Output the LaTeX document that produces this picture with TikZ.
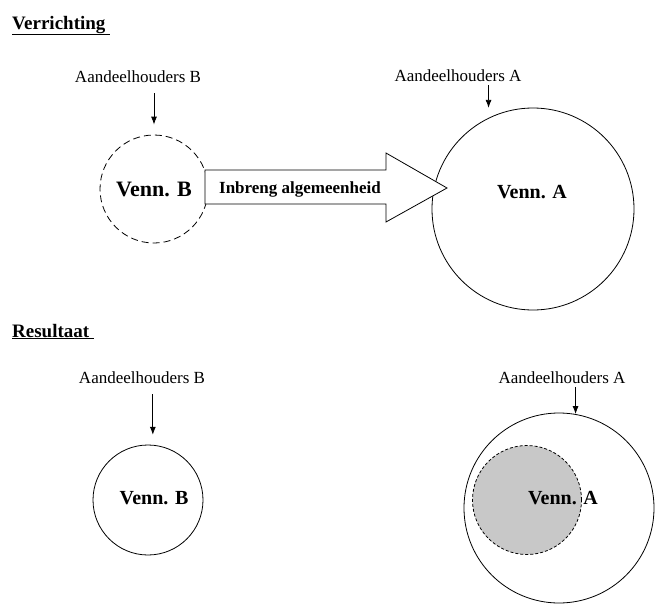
\documentclass[tikz,border=0pt]{standalone}
\usepackage{fontspec}
\setmainfont{Liberation Serif}
\usetikzlibrary{positioning,arrows.meta}
\definecolor{vennGrey}{RGB}{200,200,200}
\tikzset{venn node/.style={circle,draw,line width=0.8pt,inner sep=0pt},
         venn text/.style={font=\bfseries\fontsize{20}{24}\selectfont,inner sep=0pt},
         title node/.style={font=\bfseries\fontsize{19}{23}\selectfont,inner sep=0pt,anchor=base west},
         holder node/.style={font=\fontsize{17}{20}\selectfont,inner sep=0pt},
         pijl/.style={-{Latex[length=8pt,width=6pt]},line width=0.8pt},
            }

\begin{document}
\begin{tikzpicture}[x=1pt,y=1pt]
    \useasboundingbox (0,0) rectangle (662,-605);

    % Verrichting
    \node[title node] (verr) at (12,-29) {\underline{Verrichting\ }};
    \node[venn node,dash pattern=on 7pt off 4pt,minimum size=108pt,venn text,font=\bfseries\fontsize{22}{26}\selectfont] (B1) at (154,-189) {Venn. B};
    \node[holder node] (hB1) at (138,-77) {Aandeelhouders B};
    \node[venn node,minimum size=202pt] (A1) at (533,-209) {};
    \node[venn text] (tA1) at (532,-192) {Venn. A};
    \node[holder node] (hA1) at (458,-76) {Aandeelhouders A};

    \draw[pijl,shorten <=10pt,shorten >=10pt] (hB1.south -| B1.north) -- (B1.north);
    \draw[pijl,shorten <=3pt,shorten >=10pt] (A1.116 |- hA1.south) -- (A1.116);

    \draw[line width=0.8pt,fill=white]
    (205,-170) -- (386,-170) -- (386,-153) -- (447,-188)
    -- (386,-222) -- (386,-204) -- (205,-204) -- cycle;
    \node[font=\bfseries\fontsize{17}{20}\selectfont,inner sep=0pt] (inbreng) at (300,-189) {Inbreng algemeenheid};

    % Resultaat
    \node[title node] (res) at (12,-337) {\underline{Resultaat\ }};
    \node[holder node] (hB2) at (142,-378) {Aandeelhouders B};
    \node[venn node,minimum size=110pt] (B2) at (148,-500) {};
    \node[venn text] (tB2) at (154,-498) {Venn. B};
    \draw[pijl,shorten <=10pt,shorten >=10pt] (B2.85 |- hB2.south) -- (B2.85);

    \node[holder node] (hA2) at (562,-378) {Aandeelhouders A};
    \node[venn node,minimum size=190pt] (R2) at (559,-508) {};
    \node[venn node,fill=vennGrey,dash pattern=on 3pt off 2pt,minimum size=109pt] (G2) at (527,-500) {};
    \node[venn text] (tA2) at (563,-498) {Venn. A};
    \draw[pijl,shorten <=3pt] (R2.80 |- hA2.south) -- (R2.80);

\end{tikzpicture}
\end{document}
